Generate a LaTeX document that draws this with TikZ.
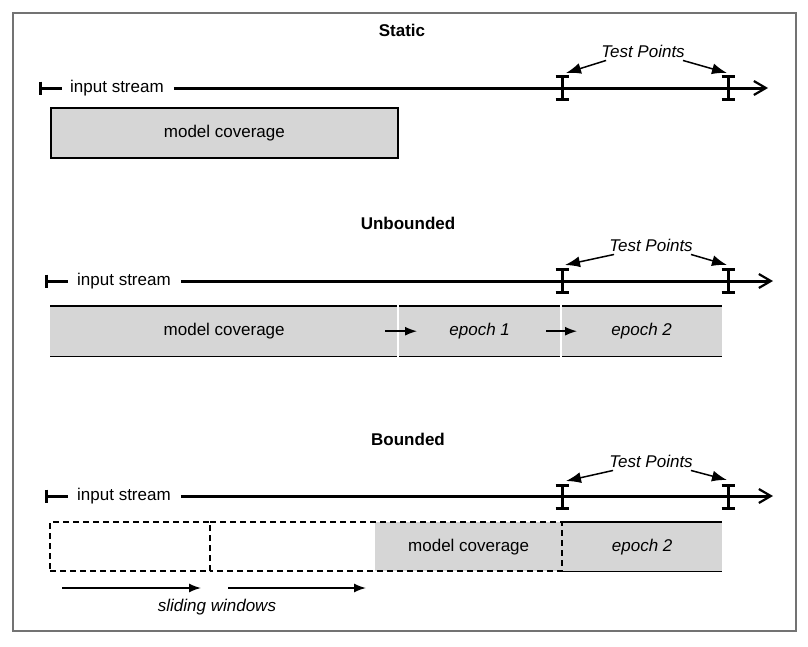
\documentclass[tikz,border=0pt]{standalone}
\usepackage{fontspec}
\setmainfont{Liberation Sans}
\usetikzlibrary{arrows.meta}

\tikzset{
  tbar/.pic={\draw[ibar] (-6.5,-11.5) -- (6.5,-11.5) (0,-11.5) -- (0,11.5) (-6.5,11.5) -- (6.5,11.5);}
}

\begin{document}
\begin{tikzpicture}[x=1pt,y=-1pt,
    every node/.style={font=\fontsize{17}{20}\selectfont, inner sep=0pt},
    heading/.style={font=\fontsize{17}{20}\selectfont\bfseries},
    slanted/.style={font=\fontsize{17}{20}\selectfont\itshape},
    stream/.style={line width=3pt, -{Straight Barb[length=12pt,width=14pt,line width=2.2pt]}},
    ibar/.style={line width=3pt},
    pointer/.style={line width=1.5pt, -{Latex[length=15pt,width=11pt]}},
    push/.style={line width=1.5pt, -{Latex[length=12pt,width=9pt]}},
    cover/.style={fill=black!16, minimum height=50pt, anchor=north west},
    edge/.style={line width=1.8pt},
    window/.style={line width=1.3pt, dash pattern=on 6pt off 4pt}]

    \useasboundingbox (0,0) rectangle (808,646);
    % Outer frame
    \draw[black!55, line width=1.5pt] (13,13) rectangle (796,631);

    % ---------- Static ----------
    \node[heading] (static) at (402,30) {Static};
    \node[anchor=west] (sin) at (70,88) {input stream};
    \draw[ibar] (40,81.5) -- (40,94.5) (40,88) -- ([xshift=-8pt]sin.west);
    \coordinate (send) at (768,88);
    \draw[stream] ([xshift=10pt]sin.east) -- (send);
    \pic at (562,88) {tbar};
    \pic at (728,88) {tbar};
    \coordinate (stp1) at (566,73);
    \coordinate (stp2) at (727,73);
    \node[slanted, inner sep=3pt] (stp) at (643,51) {Test Points};
    \draw[pointer] ([xshift=8pt]stp.south west) -- (stp1);
    \draw[pointer] ([xshift=-5pt]stp.south east) -- (stp2);
    \node[cover, draw, edge, minimum width=347pt] (smc) at (50,107) {model coverage};

    % ---------- Unbounded ----------
    \node[heading] (unb) at (408,223) {Unbounded};
    \node[anchor=west] (uin) at (77,281) {input stream};
    \draw[ibar] (46,274.5) -- (46,287.5) (46,281) -- ([xshift=-9pt]uin.west);
    \coordinate (uend) at (773,281);
    \draw[stream] ([xshift=10pt]uin.east) -- (uend);
    \pic at (562,280.5) {tbar};
    \pic at (728,280.5) {tbar};
    \coordinate (utp1) at (565,265);
    \coordinate (utp2) at (727,265);
    \node[slanted, inner sep=3pt] (utp) at (651,245) {Test Points};
    \draw[pointer] ([xshift=8pt]utp.south west) -- (utp1);
    \draw[pointer] ([xshift=-5pt]utp.south east) -- (utp2);
    \node[cover, minimum width=348pt] (umc) at (50,306) {model coverage};
    \node[cover, minimum width=163pt, font=\fontsize{17}{20}\selectfont\itshape] (ue1) at (398,306) {epoch 1};
    \node[cover, minimum width=161pt, font=\fontsize{17}{20}\selectfont\itshape] (ue2) at (561,306) {epoch 2};
    \draw[edge] (umc.north west) -- (ue2.north east);
    \draw[edge] (umc.south west) -- (ue2.south east);
    \draw[white, line width=2.2pt] ([yshift=2pt]ue1.north west) -- ([yshift=-2pt]ue1.south west);
    \draw[white, line width=2.2pt] ([yshift=2pt]ue2.north west) -- ([yshift=-2pt]ue2.south west);
    \draw[push] ([xshift=-13pt]ue1.west) -- ([xshift=19pt]ue1.west);
    \draw[push] ([xshift=-15pt]ue2.west) -- ([xshift=16pt]ue2.west);

    % ---------- Bounded ----------
    \node[heading] (bnd) at (408,439) {Bounded};
    \node[anchor=west] (bin) at (77,496) {input stream};
    \draw[ibar] (46,489.5) -- (46,502.5) (46,496) -- ([xshift=-9pt]bin.west);
    \coordinate (bend) at (773,496);
    \draw[stream] ([xshift=10pt]bin.east) -- (bend);
    \pic at (562,496.5) {tbar};
    \pic at (728,496.5) {tbar};
    \coordinate (btp1) at (566,481);
    \coordinate (btp2) at (727,480);
    \node[slanted, inner sep=3pt] (btp) at (651,461) {Test Points};
    \draw[pointer] ([xshift=7pt]btp.south west) -- (btp1);
    \draw[pointer] ([xshift=-5pt]btp.south east) -- (btp2);
    \node[cover, minimum width=187pt, minimum height=49pt] (bmc) at (375,522) {model coverage};
    \node[cover, minimum width=160pt, minimum height=49pt, font=\fontsize{17}{20}\selectfont\itshape] (be2) at (562,522) {epoch 2};
    \node[window, draw, outer sep=0pt, anchor=north west, minimum width=160pt, minimum height=49pt] (w1) at (50,522) {};
    \coordinate (w2b) at (562,571);
    \draw[window] (w1.north east) -- (w1.north east -| w2b) -- (w2b) -- (w1.south east);
    \draw[edge] (be2.north west) -- (be2.north east);
    \draw[edge] (be2.south west) -- (be2.south east);
    \coordinate (sw1a) at (62,588);
    \coordinate (sw1b) at (201,588);
    \coordinate (sw2a) at (228,588);
    \coordinate (sw2b) at (366,588);
    \draw[push] (sw1a) -- (sw1b);
    \draw[push] (sw2a) -- (sw2b);
    \node[slanted] (slide) at (217,607) {sliding windows};
  \end{tikzpicture}
\end{document}
